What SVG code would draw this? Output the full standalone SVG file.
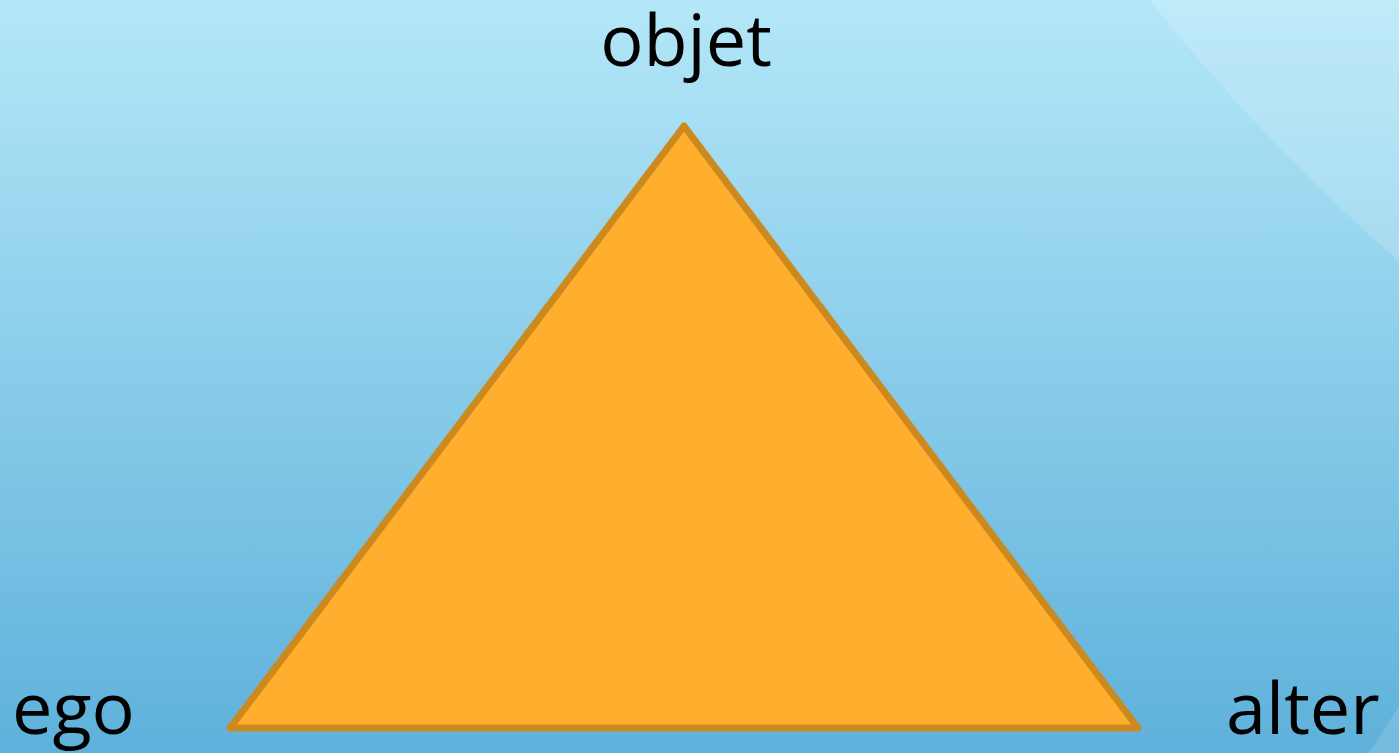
<svg xmlns="http://www.w3.org/2000/svg" width="1399" height="753" viewBox="0 0 1399 753">
<defs>
<linearGradient id="bg" x1="0" y1="0" x2="0" y2="1">
<stop offset="0" stop-color="#B4E7F8"/>
<stop offset="1" stop-color="#5EB1DB"/>
</linearGradient>
<clipPath id="frame"><rect x="0" y="0" width="1399" height="753"/></clipPath>
</defs>
<style>
.lbl{font-family:"Open Sans","Noto Sans",sans-serif;font-size:72px;fill:#000}
.tri{fill:#FFAE2E;stroke:#CC8A1E;stroke-width:7;stroke-linejoin:round}
</style>
<rect width="1399" height="753" fill="url(#bg)"/>
<g clip-path="url(#frame)">
<circle cx="2768" cy="-1298" r="2075" fill="#fff" fill-opacity="0.16"/>
<circle cx="1560" cy="-260" r="230" fill="#fff" fill-opacity="0.12"/>
<path d="M1368 753 Q1385 730 1399 706 L1399 753 Z" fill="#fff" fill-opacity="0.14"/>
</g>
<g id="connectors"></g>
<g id="triangle">
<polygon class="tri" points="684,126 230,728 1138,728"/>
</g>
<g id="objet"><text class="lbl" x="686" y="66" text-anchor="middle">objet</text></g>
<g id="ego"><text class="lbl" x="12" y="734">ego</text></g>
<g id="alter"><text class="lbl" x="1226" y="734">alter</text></g>
</svg>
